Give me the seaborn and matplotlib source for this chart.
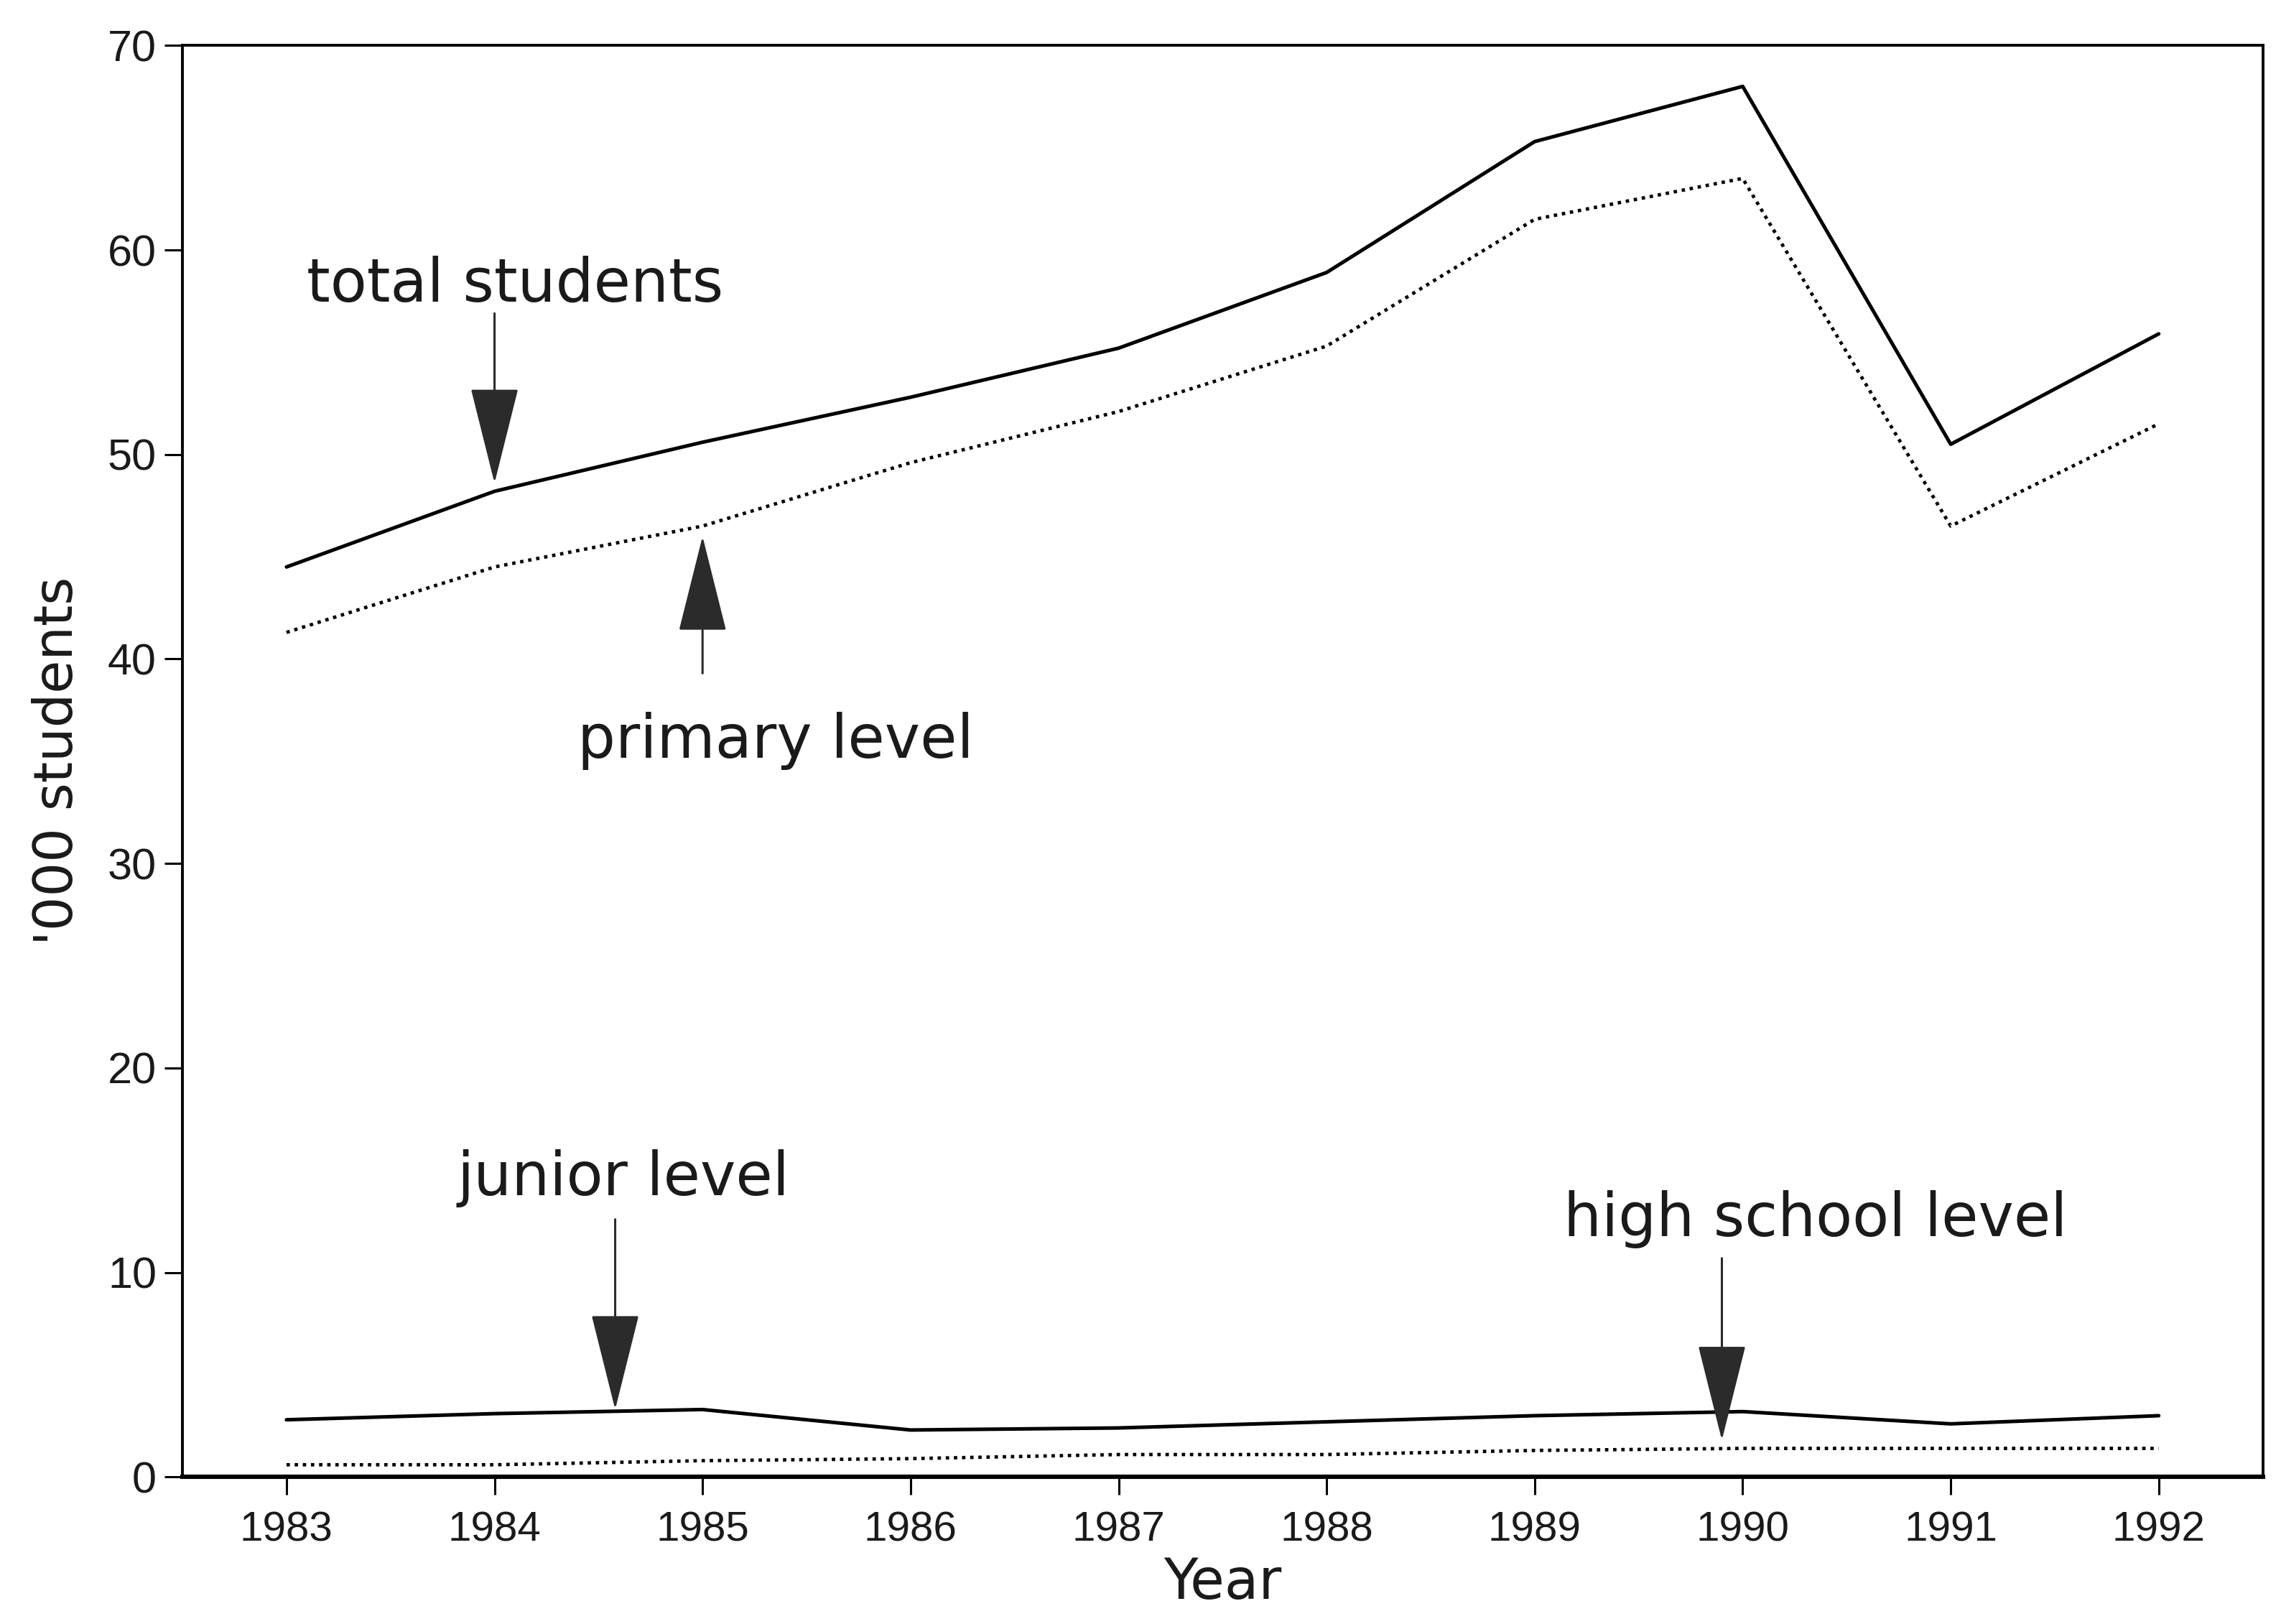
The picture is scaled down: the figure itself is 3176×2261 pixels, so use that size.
import numpy as np
import pandas as pd
import matplotlib
matplotlib.use("Agg")
import matplotlib.pyplot as plt
import seaborn as sns

# values ('000 students)
years = [1983, 1984, 1985, 1986, 1987, 1988, 1989, 1990, 1991, 1992]
total = [44.5, 48.2, 50.6, 52.8, 55.2, 58.9, 65.3, 68.0, 50.5, 55.9]
primary = [41.3, 44.5, 46.5, 49.6, 52.1, 55.3, 61.5, 63.5, 46.5, 51.5]
junior = [2.8, 3.1, 3.3, 2.3, 2.4, 2.7, 3.0, 3.2, 2.6, 3.0]
high_school = [0.6, 0.6, 0.8, 0.9, 1.1, 1.1, 1.3, 1.4, 1.4, 1.4]

y_ticks = [0, 10, 20, 30, 40, 50, 60, 70]

sns.set_style("ticks")
plt.rcParams['font.family'] = ['Liberation Sans', 'DejaVu Sans']

fig = plt.figure(figsize=(15.88, 11.305), dpi=200)
ax = fig.add_axes([0.08, 0.0905, 0.912, 0.8815])

solid = dict(color='black', lw=1.8, linestyle='-')
dotted = dict(color='black', lw=1.7, linestyle=(0, (1, 1.4)))

sns.lineplot(x=years, y=total, ax=ax, **solid)
sns.lineplot(x=years, y=primary, ax=ax, **dotted)
sns.lineplot(x=years, y=junior, ax=ax, **solid)
sns.lineplot(x=years, y=high_school, ax=ax, **dotted)

ax.set_xlim(1982.5, 1992.5)
ax.set_ylim(0, 70)
ax.set_xticks(years)
ax.set_yticks(y_ticks)
ax.tick_params(axis='both', labelsize=22, length=9, width=1.1, color='black',
               labelcolor='#1a1a1a')
ax.tick_params(axis='x', pad=8, labelsize=21)
ax.tick_params(axis='y', pad=4)

for s in ax.spines.values():
    s.set_visible(True)
    s.set_linewidth(1.4)
    s.set_color('black')
ax.spines['bottom'].set_linewidth(2.2)

ax.set_xlabel('Year', fontsize=28, color='#1a1a1a', labelpad=3,
              family=['DejaVu Sans'])
ax.set_ylabel("'000 students", fontsize=27, color='#1a1a1a', labelpad=12,
              family=['DejaVu Sans'])

# labels with arrows
arrow = dict(arrowstyle='-|>,head_length=4.4,head_width=1.1', mutation_scale=10,
             lw=1.1, color='#2b2b2b', shrinkA=0, shrinkB=0)
lbl = dict(fontsize=30, ha='center', va='center', color='#1a1a1a', family=['DejaVu Sans'])

ax.text(1984.1, 58.3, 'total students', **lbl)
ax.annotate('', xy=(1984.0, 48.6), xytext=(1984.0, 56.9), arrowprops=arrow)

ax.text(1985.35, 36.0, 'primary level', **lbl)
ax.annotate('', xy=(1985.0, 46.0), xytext=(1985.0, 39.3), arrowprops=arrow)

ax.text(1984.62, 14.6, 'junior level', **lbl)
ax.annotate('', xy=(1984.58, 3.3), xytext=(1984.58, 12.6), arrowprops=arrow)

ax.text(1990.35, 12.6, 'high school level', **lbl)
ax.annotate('', xy=(1989.9, 1.8), xytext=(1989.9, 10.7), arrowprops=arrow)

plt.savefig('out.png', dpi=200)
